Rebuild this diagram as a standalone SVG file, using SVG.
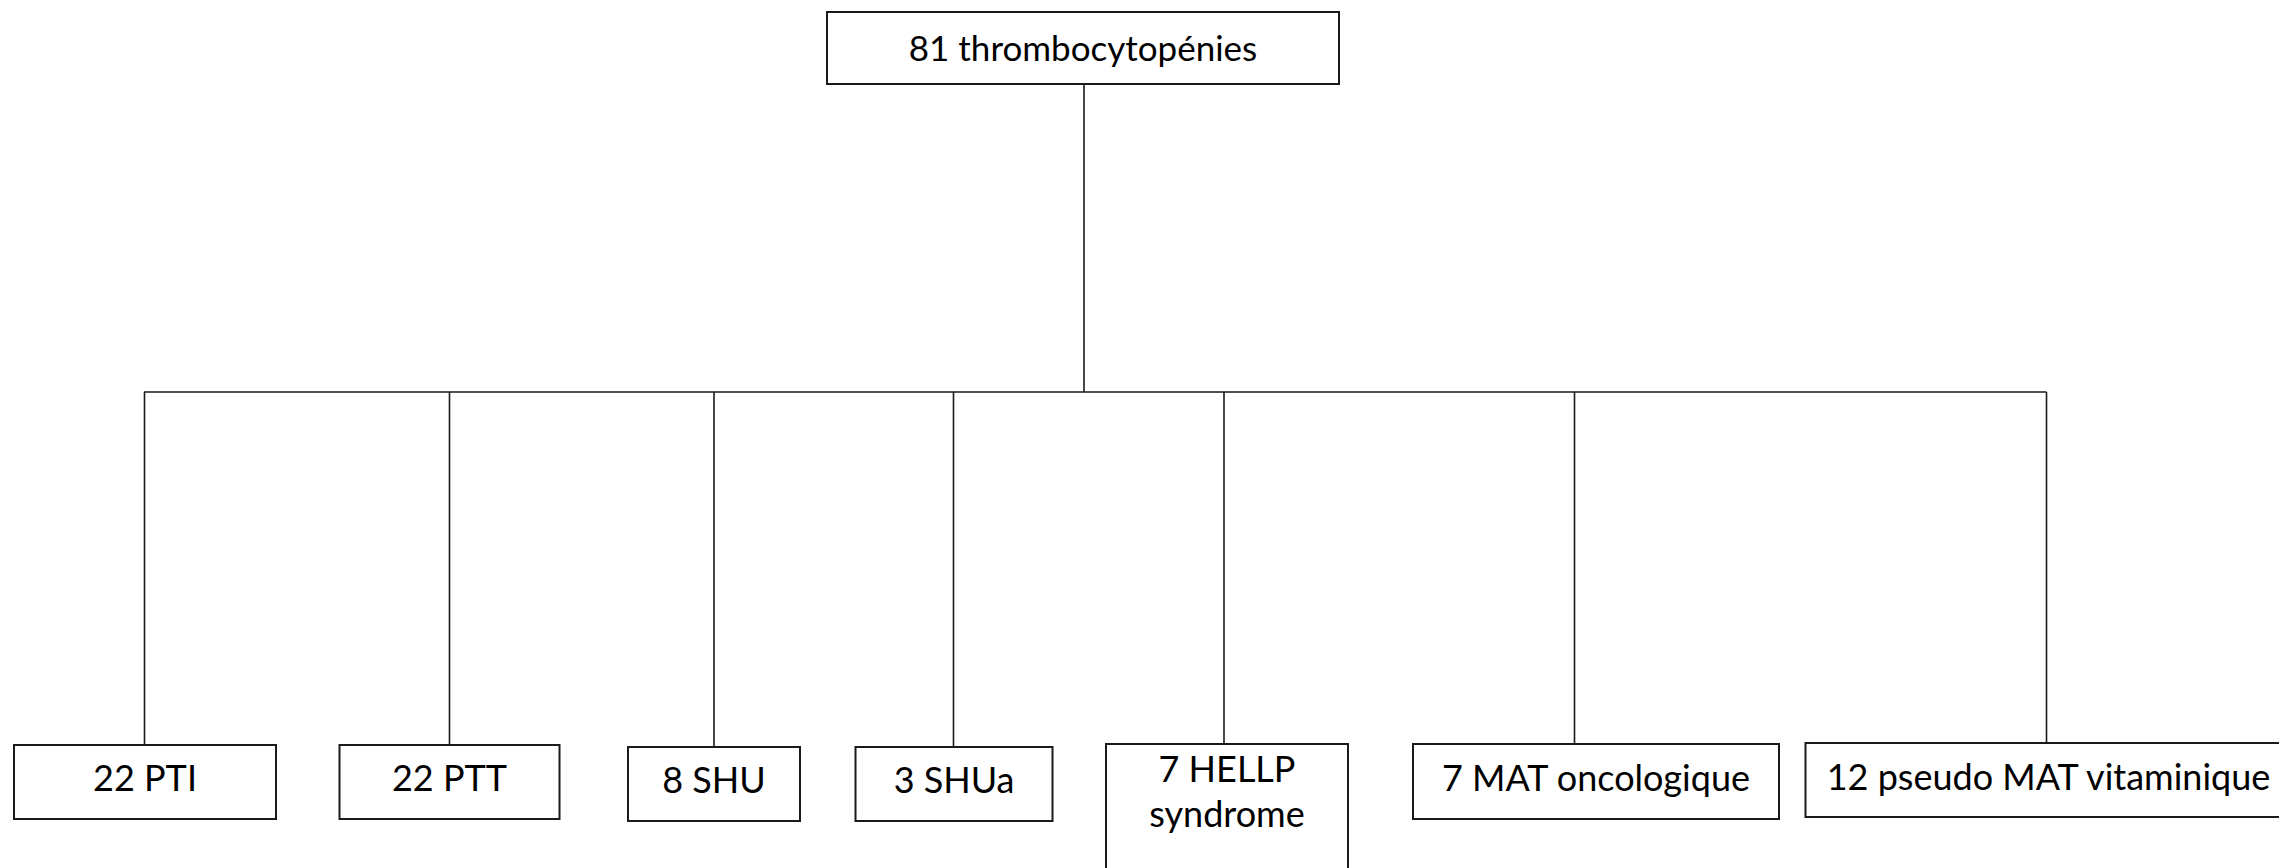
<svg xmlns="http://www.w3.org/2000/svg" width="2279" height="868" viewBox="0 0 2279 868">
<style>
.box{fill:#fff;stroke:#1a1a1a;stroke-width:2}
.lbl{font-family:Lato,"Liberation Sans",sans-serif;font-size:36px;fill:#000;text-anchor:middle}
.con{stroke:#1a1a1a;stroke-width:1.6;fill:none}
</style>
<rect width="2279" height="868" fill="#fff"/>
<g id="connectors">
<line class="con" x1="1084" y1="84" x2="1084" y2="392"/>
<line class="con" x1="144" y1="392" x2="2046.5" y2="392"/>
<line class="con" x1="144.5" y1="392" x2="144.5" y2="745"/>
<line class="con" x1="449.5" y1="392" x2="449.5" y2="745"/>
<line class="con" x1="714" y1="392" x2="714" y2="747"/>
<line class="con" x1="953.5" y1="392" x2="953.5" y2="747"/>
<line class="con" x1="1224" y1="392" x2="1224" y2="744"/>
<line class="con" x1="1574.5" y1="392" x2="1574.5" y2="744"/>
<line class="con" x1="2046.5" y1="392" x2="2046.5" y2="743"/>
</g>
<g id="root">
<rect class="box" x="827" y="12" width="512" height="72"/>
<text class="lbl" x="1083" y="61" style="font-size:35px">81 thrombocytopénies</text>
</g>
<g id="pti">
<rect class="box" x="14" y="745" width="262" height="74"/>
<text class="lbl" x="145" y="791">22 PTI</text>
</g>
<g id="ptt">
<rect class="box" x="339.5" y="745" width="220" height="74"/>
<text class="lbl" x="449.5" y="791">22 PTT</text>
</g>
<g id="shu">
<rect class="box" x="628" y="747" width="172" height="74"/>
<text class="lbl" x="714" y="793">8 SHU</text>
</g>
<g id="shua">
<rect class="box" x="855.5" y="747" width="197" height="74"/>
<text class="lbl" x="954" y="793">3 SHUa</text>
</g>
<g id="hellp">
<rect class="box" x="1106" y="744" width="242" height="140"/>
<text class="lbl" x="1227" y="782">7 HELLP</text>
<text class="lbl" x="1227" y="827">syndrome</text>
</g>
<g id="mat">
<rect class="box" x="1413" y="744" width="366" height="75"/>
<text class="lbl" x="1596" y="791">7 MAT oncologique</text>
</g>
<g id="pseudo">
<rect class="box" x="1805.5" y="743" width="486" height="74"/>
<text class="lbl" x="2048.5" y="790">12 pseudo MAT vitaminique</text>
</g>
</svg>
